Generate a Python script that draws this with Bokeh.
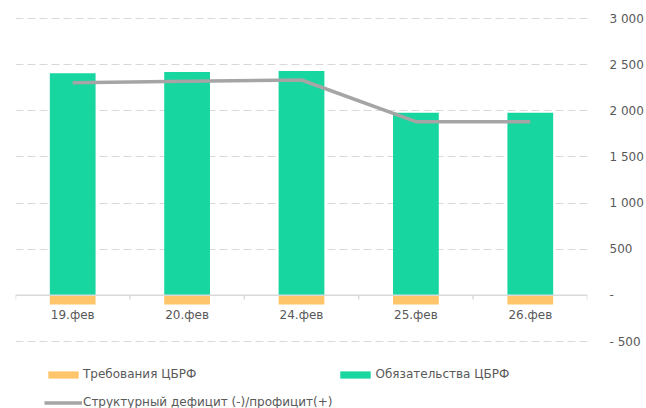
from bokeh.plotting import figure
from bokeh.models import Range1d, FactorRange, FixedTicker, Legend, LegendItem, Span, ColumnDataSource
from bokeh.transform import dodge
from bokeh.core.properties import value
from bokeh.embed import file_html
from bokeh.resources import INLINE

# ---- data ----
dates = ["19.фев", "20.фев", "24.фев", "25.фев", "26.фев"]
claims = [-100, -100, -100, -100, -100]            # Требования ЦБРФ
liabilities = [2407, 2420, 2432, 1979, 1979]       # Обязательства ЦБРФ
balance = [2305, 2320, 2334, 1882, 1882]           # Структурный дефицит (-)/профицит(+)
y_ticks = [-500, 0, 500, 1000, 1500, 2000, 2500, 3000]
y_tick_labels = ["- 500", "-", "500", "1 000", "1 500", "2 000", "2 500", "3 000"]
series_names = ["Требования ЦБРФ", "Обязательства ЦБРФ", "Структурный дефицит (-)/профицит(+)"]

FONT = "DejaVu Sans"
FS = "12px"
TXT = "#595959"
GRID = "#D9D9D9"

src = ColumnDataSource(dict(d=dates, claims=claims, liab=liabilities, bal=balance,
                            zero=[0] * len(dates)))

# value axis: 3000 .. -500 over 323 px; the frame continues below (same scale)
# to host the legend, and a couple of px above so the top grid line is visible.
p = figure(width=646, height=408, x_range=FactorRange(factors=dates),
           y_range=Range1d(-1226, 3022), output_backend="svg", toolbar_location=None,
           x_axis_location=None, y_axis_location="right",
           min_border_left=15, min_border_top=16, min_border_bottom=0, min_border_right=52)
p.outline_line_color = None
p.background_fill_color = "white"
p.border_fill_color = "white"

p.xgrid.visible = False
p.ygrid.ticker = FixedTicker(ticks=[t for t in y_ticks if t != 0])
p.ygrid.grid_line_color = GRID
p.ygrid.grid_line_dash = "8 4"
p.ygrid.grid_line_width = 1

ax = p.yaxis[0]
ax.ticker = FixedTicker(ticks=y_ticks)
ax.major_label_overrides = dict(zip(y_ticks, y_tick_labels))
ax.axis_line_color = None
ax.major_tick_line_color = None
ax.minor_tick_line_color = None
ax.major_label_standoff = 16
ax.major_label_text_font = FONT
ax.major_label_text_font_size = FS
ax.major_label_text_color = TXT

r_claims = p.vbar(x="d", top="claims", bottom="zero", width=0.4, source=src,
                  fill_color="#FFC56A", line_color=None)
r_liab = p.vbar(x="d", top="liab", bottom="zero", width=0.4, source=src,
                fill_color="#17D6A0", line_color=None)

# zero axis line and category boundary ticks
p.add_layout(Span(location=0, dimension="width", line_color=GRID, line_width=1.5))
p.segment(x0=dodge("d", -0.5, range=p.x_range), x1=dodge("d", -0.5, range=p.x_range),
          y0=0, y1=-45, source=src, line_color=GRID, line_width=1.5)
last = ColumnDataSource(dict(d=dates[-1:]))
p.segment(x0=dodge("d", 0.5, range=p.x_range), x1=dodge("d", 0.5, range=p.x_range),
          y0=0, y1=-45, source=last, line_color=GRID, line_width=1.5)

r_line = p.line(x="d", y="bal", source=src, line_color="#A5A5A5", line_width=3.5)

# category labels
p.text(x="d", y=-217, text="d", source=src, text_align="center", text_baseline="middle",
       text_font=value(FONT), text_font_size=FS, text_color=TXT)

legend = Legend(items=[LegendItem(label=series_names[0], renderers=[r_claims]),
                       LegendItem(label=series_names[1], renderers=[r_liab]),
                       LegendItem(label=series_names[2], renderers=[r_line])],
                location=(29, -6), orientation="horizontal", ncols=2,
                glyph_width=38, glyph_height=9, label_height=24, label_width=20,
                label_standoff=1, spacing=4, padding=0, margin=0,
                border_line_color=None, background_fill_alpha=0,
                label_text_font=FONT, label_text_font_size=FS, label_text_color=TXT)
p.add_layout(legend)

open("out.html", "w").write(file_html(p, INLINE))
